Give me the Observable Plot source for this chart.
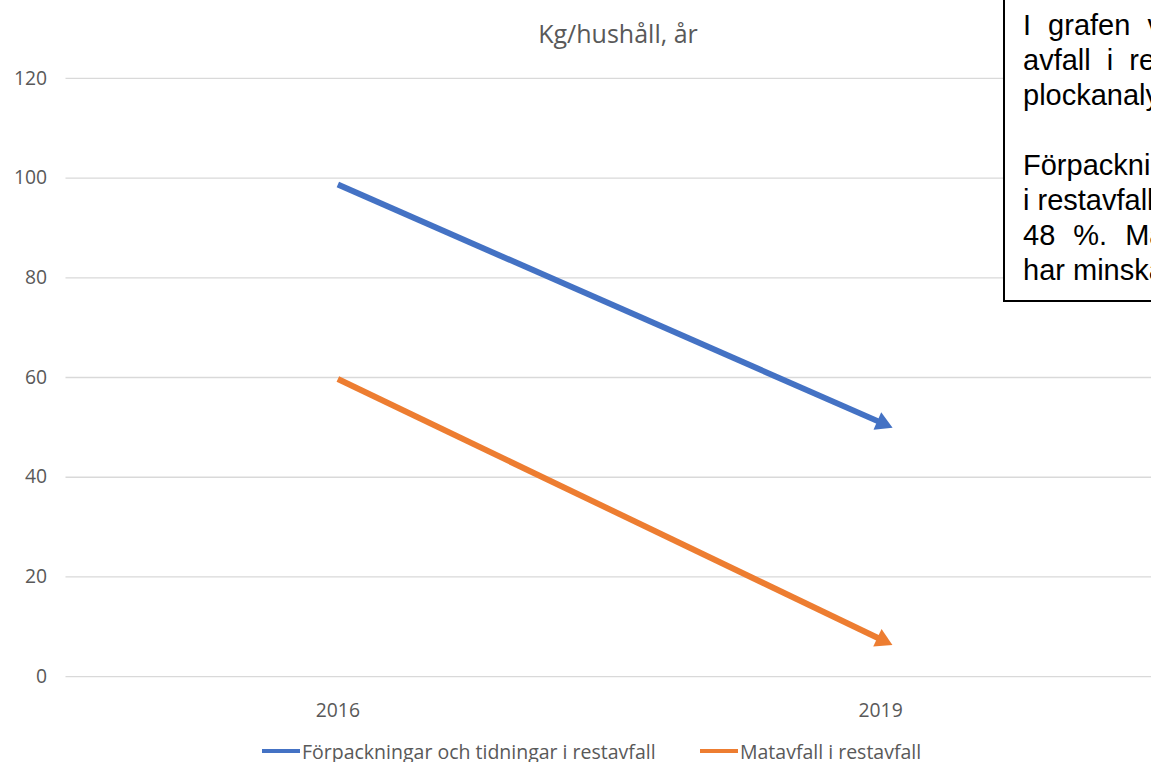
<!DOCTYPE html>
<html>
<head>
<meta charset="utf-8">
<script src="https://cdn.jsdelivr.net/npm/d3@7"></script>
<script src="https://cdn.jsdelivr.net/npm/@observablehq/plot@0.6"></script>
<style>
  html, body { margin: 0; padding: 0; background: #fff; overflow: hidden; }
  #wrap { position: relative; width: 1151px; height: 762px; overflow: hidden; }
  #title { position: absolute; left: 0; width: 1236px; top: 15px; text-align: center;
    font-family: "Open Sans", sans-serif; font-size: 25px; color: #595959; line-height: 36px; }
  #chart { position: absolute; left: 0; top: 60px; }
  #legend { position: absolute; left: 0; top: 737px; width: 1151px; height: 28px;
    font-family: "Open Sans", sans-serif; font-size: 19.5px; color: #595959; white-space: nowrap; }
  .item { position: absolute; top: 0; display: flex; align-items: center; height: 28px; }
  .sw { width: 38px; height: 4px; margin-right: 2px; }
  #note { position: absolute; left: 1003px; top: -10px; width: 420px; height: 312px;
    border: 2px solid #000; background: #fff; box-sizing: border-box; padding: 15.5px 20px 0 18px;
    font-family: "Liberation Sans", Arial, sans-serif; font-size: 29px; line-height: 35px; color: #000; white-space: nowrap; }
</style>
</head>
<body>
<div id="wrap">
  <div id="title"></div>
  <div id="chart"></div>
  <div id="legend"></div>
  <div id="note"></div>
</div>
<script>
// ---- data ----
const years = ["2016", "2019"];
const seriesNames = ["Förpackningar och tidningar i restavfall", "Matavfall i restavfall"];
const packaging = [98.7, 51];
const food = [59.7, 7.5];
const seriesColors = ["#4472C4", "#ED7D31"];
const yTicks = [0, 20, 40, 60, 80, 100, 120];
const titleText = "Kg/hushåll, år";
const noteLines = [
  "I grafen visas mängden",
  "avfall i restavfallet enligt",
  "plockanalyserna 2016 och 2019.",
  "",
  "Förpackningar och tidningar",
  "i restavfallet har minskat med",
  "48 %. Matavfallet i restavfallet",
  "har minskat med 88 %."
];
const noteSpacing = [9, 8, 0, 0, 0, 0, 10, 0];
const legendLeft = [262, 700];

// ---- build ----
const seriesValues = [packaging, food];
const segments = seriesNames.map((name, i) => ({
  name, x1: years[0], y1: seriesValues[i][0], x2: years[1], y2: seriesValues[i][1]
}));

document.getElementById("title").textContent = titleText;

const base = {
  width: 1160,
  height: 670,
  marginLeft: 66,
  marginRight: 0,
  marginTop: 18,
  marginBottom: 49,
  style: { fontFamily: "Open Sans, sans-serif", fontSize: "19.5px", color: "#595959", background: "transparent" },
  x: { type: "point", domain: years, padding: 0.5, label: null },
  y: { domain: [0, 120], label: null },
  color: { domain: seriesNames, range: seriesColors }
};

const commonMarks = [
  Plot.gridY(yTicks, { stroke: "#d9d9d9", strokeOpacity: 1, strokeWidth: 1.3 }),
  Plot.axisY(yTicks, { tickSize: 0, tickPadding: 19, label: null }),
  Plot.axisX({ tickSize: 0, tickPadding: 27, label: null }),
  Plot.link(segments, {
    x1: "x1", y1: "y1", x2: "x2", y2: "y2",
    stroke: "name", strokeWidth: 6, strokeLinecap: "butt"
  })
];

// first pass: obtain the scales to orient the arrow heads
const probe = Plot.plot({ ...base, marks: commonMarks });
const sx = probe.scale("x"), sy = probe.scale("y");
const heads = segments.map(s => {
  const ax = sx.apply(s.x1), ay = sy.apply(s.y1);
  const bx = sx.apply(s.x2), by = sy.apply(s.y2);
  const ang = Math.atan2(by - ay, bx - ax);
  return { name: s.name, x: s.x2, y: s.y2, rot: ang * 180 / Math.PI + 90,
           dx: Math.cos(ang) * 2, dy: Math.sin(ang) * 2 };
});

const chart = Plot.plot({
  ...base,
  marks: [
    ...commonMarks,
    ...heads.map(h => Plot.dot([h], {
      x: "x", y: "y", symbol: "triangle", r: 7.2, rotate: "rot",
      fill: "name", stroke: "none", dx: h.dx, dy: h.dy
    }))
  ]
});
document.getElementById("chart").appendChild(chart);

const legend = document.getElementById("legend");
seriesNames.forEach((n, i) => {
  const it = document.createElement("div");
  it.className = "item";
  it.style.left = legendLeft[i] + "px";
  const sw = document.createElement("div");
  sw.className = "sw";
  sw.style.background = seriesColors[i];
  const tx = document.createElement("span");
  tx.textContent = n;
  it.appendChild(sw); it.appendChild(tx);
  legend.appendChild(it);
});

const note = document.getElementById("note");
noteLines.forEach((l, i) => {
  const d = document.createElement("div");
  d.textContent = l || "\u00a0";
  d.style.wordSpacing = noteSpacing[i] + "px";
  note.appendChild(d);
});
</script>
</body>
</html>
